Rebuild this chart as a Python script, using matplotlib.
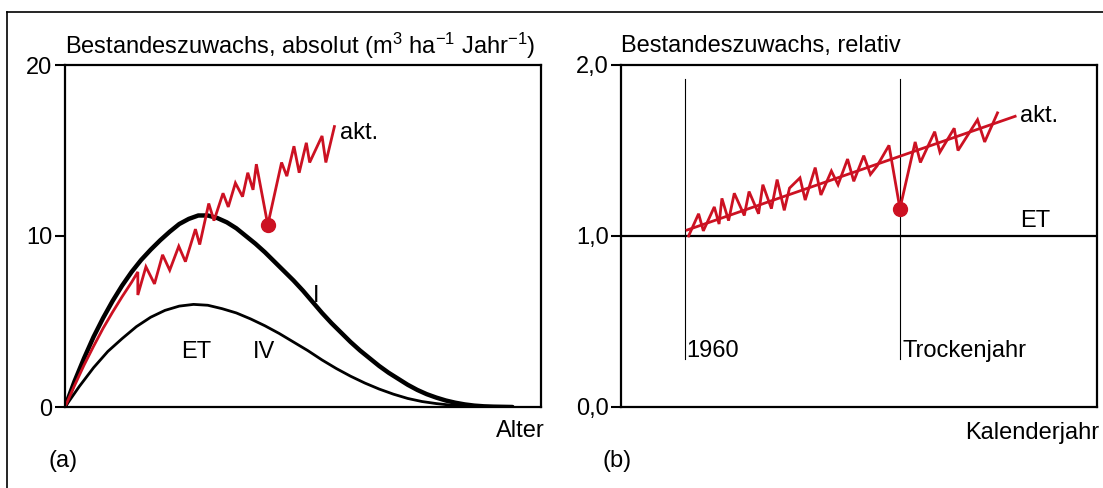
import matplotlib
matplotlib.use("Agg")
import matplotlib.pyplot as plt
from matplotlib.lines import Line2D

plt.rcParams['font.family'] = ['Liberation Sans', 'DejaVu Sans']
plt.rcParams['mathtext.fontset'] = 'custom'
plt.rcParams['mathtext.rm'] = 'Liberation Sans'
plt.rcParams['mathtext.it'] = 'Liberation Sans:italic'
plt.rcParams['mathtext.bf'] = 'Liberation Sans:bold'

RED = '#cc1122'
FS = 17

# ---- (a) absolute increment vs. age (x: relative age, 0..100) ----
curve_I_x = [0, 2, 4, 6, 8, 10, 12, 14, 16, 18, 20, 22, 24, 26, 28, 30, 32,
             34, 36, 38, 40, 42, 44, 46, 48, 50, 52, 54, 56, 58, 60, 62, 64,
             66, 68, 70, 72, 74, 76, 78, 80, 82, 84, 86, 88, 90, 92, 94]
curve_I_y = [0, 1.5, 2.85, 4.1, 5.2, 6.2, 7.1, 7.9, 8.6, 9.2, 9.75, 10.25,
             10.7, 11.0, 11.2, 11.2, 11.05, 10.8, 10.45, 10.0, 9.55, 9.05,
             8.5, 7.95, 7.4, 6.8, 6.15, 5.5, 4.9, 4.35, 3.8, 3.3, 2.85, 2.4,
             2.0, 1.65, 1.3, 1.0, 0.75, 0.55, 0.38, 0.25, 0.15, 0.08, 0.04,
             0.02, 0.01, 0]

curve_IV_x = [0, 3, 6, 9, 12, 15, 18, 21, 24, 27, 30, 33, 36, 39, 42, 45, 48,
              51, 54, 57, 60, 63, 66, 69, 72, 75, 78, 81, 84, 87, 90, 94]
curve_IV_y = [0, 1.2, 2.3, 3.25, 4.0, 4.7, 5.25, 5.65, 5.9, 6.0, 5.95, 5.75,
              5.5, 5.15, 4.75, 4.3, 3.8, 3.3, 2.75, 2.25, 1.8, 1.4, 1.05, 0.75,
              0.5, 0.32, 0.2, 0.11, 0.06, 0.03, 0.01, 0]

akt_a_x = [0, 2, 4, 6, 8, 10, 12, 14, 15.3, 15.3, 17.0, 18.8, 20.5, 22.0,
           23.9, 25.3, 27.4, 28.3, 30.2, 31.3, 33.2, 34.3, 35.8, 37.3, 38.4,
           39.5, 40.2, 42.6, 45.5, 46.6, 48.1, 49.2, 50.7, 51.4, 54.0, 54.8,
           56.6]
akt_a_y = [0, 1.25, 2.45, 3.55, 4.6, 5.55, 6.45, 7.3, 7.9, 6.55, 8.2, 7.2,
           8.9, 8.0, 9.4, 8.5, 10.4, 9.5, 11.9, 10.9, 12.5, 11.7, 13.1, 12.3,
           13.7, 12.7, 14.2, 10.65, 14.3, 13.5, 15.25, 13.7, 15.45, 14.3,
           15.85, 14.3, 16.4]
drought_a = (42.6, 10.65)

yticks_a = [0, 10, 20]
yticklabels_a = ['0', '10', '20']

# ---- (b) relative increment vs. calendar year ----
akt_b_x = [14.2, 16.3, 17.3, 19.6, 20.6, 21.2, 22.6, 23.8, 25.9, 26.9, 28.9,
           29.8, 31.6, 32.8, 34.3, 35.4, 37.6, 38.7, 40.8, 42.0, 44.2, 45.6,
           47.6, 48.9, 51.0, 52.4, 53.8, 56.3, 58.6, 61.8, 62.9, 65.9, 67.0,
           70.0, 70.8, 74.9, 76.4, 79.1]
akt_b_y = [1.00, 1.13, 1.03, 1.17, 1.07, 1.22, 1.09, 1.25, 1.12, 1.26, 1.13,
           1.30, 1.16, 1.33, 1.15, 1.28, 1.34, 1.21, 1.40, 1.24, 1.38, 1.30,
           1.45, 1.32, 1.47, 1.36, 1.41, 1.53, 1.16, 1.55, 1.43, 1.61, 1.49,
           1.63, 1.50, 1.68, 1.55, 1.72]
trend_b_x = [13.9, 82.8]
trend_b_y = [1.035, 1.70]
drought_b = (58.6, 1.16)
year1960_x = 13.4
dry_year_x = 58.7
marker_y = [0.28, 1.92]
et_level = 1.0

yticks_b = [0, 1, 2]
yticklabels_b = ['0,0', '1,0', '2,0']

W, H = 1103, 488
fig = plt.figure(figsize=(W / 100, H / 100), dpi=100)


def box(px_left, px_top, px_right, px_bottom):
    return [px_left / W, 1 - px_bottom / H, (px_right - px_left) / W,
            (px_bottom - px_top) / H]


def style(ax, ticks, labels, ymax):
    ax.set_xlim(0, 100)
    ax.set_ylim(0, ymax)
    ax.set_xticks([])
    ax.set_yticks(ticks)
    ax.set_yticklabels(labels)
    ax.tick_params(axis='y', direction='out', length=7, width=1.5,
                   labelsize=FS, pad=2)
    for s in ax.spines.values():
        s.set_linewidth(1.6)


# frame around figure (left and top lines only are visible)
fig.add_artist(Line2D([7 / W, 7 / W], [0, 1 - 12 / H], color='black',
                      lw=1.2, transform=fig.transFigure))
fig.add_artist(Line2D([7 / W, 1], [1 - 12 / H, 1 - 12 / H], color='black',
                      lw=1.2, transform=fig.transFigure))

# panel (a)
ax1 = fig.add_axes(box(65, 65, 541, 407))
style(ax1, yticks_a, yticklabels_a, 20)
ax1.plot(curve_I_x, curve_I_y, color='black', lw=3.2, solid_capstyle='round')
ax1.plot(curve_IV_x, curve_IV_y, color='black', lw=2.0)
ax1.plot(akt_a_x, akt_a_y, color=RED, lw=2.0, solid_joinstyle='miter')
ax1.plot(*drought_a, 'o', color=RED, ms=10)
ax1.text(57.8, 16.0, 'akt.', fontsize=FS, va='center', ha='left')
ax1.text(52.8, 6.5, 'I', fontsize=FS, va='center', ha='center')
ax1.text(27.6, 3.2, 'ET', fontsize=FS, va='center', ha='center')
ax1.text(41.8, 3.2, 'IV', fontsize=FS, va='center', ha='center')
fig.text(65 / W, 1 - 46 / H,
         r'Bestandeszuwachs, absolut (m$^{3}$ ha$^{-1}$ Jahr$^{-1}$)',
         fontsize=FS, ha='left', va='center')
fig.text(545 / W, 1 - 431 / H, 'Alter', fontsize=FS, ha='right', va='center')
fig.text(63 / W, 1 - 461 / H, '(a)', fontsize=FS, ha='center', va='center')

# panel (b)
ax2 = fig.add_axes(box(621, 65, 1097, 407))
style(ax2, yticks_b, yticklabels_b, 2)
ax2.axhline(et_level, color='black', lw=1.6)
ax2.plot([year1960_x, year1960_x], marker_y, color='black', lw=0.8)
ax2.plot([dry_year_x, dry_year_x], marker_y, color='black', lw=0.8)
ax2.plot(trend_b_x, trend_b_y, color=RED, lw=2.0)
ax2.plot(akt_b_x, akt_b_y, color=RED, lw=2.0, solid_joinstyle='miter')
ax2.plot(*drought_b, 'o', color=RED, ms=10)
ax2.text(83.8, 1.70, 'akt.', fontsize=FS, va='center', ha='left')
ax2.text(87.0, 1.085, 'ET', fontsize=FS, va='center', ha='center')
ax2.text(year1960_x + 0.4, 0.33, '1960', fontsize=FS, va='center', ha='left')
ax2.text(dry_year_x + 0.4, 0.33, 'Trockenjahr', fontsize=FS, va='center',
         ha='left')
fig.text(621 / W, 1 - 46 / H, 'Bestandeszuwachs, relativ', fontsize=FS,
         ha='left', va='center')
fig.text(1099 / W, 1 - 433 / H, 'Kalenderjahr', fontsize=FS, ha='right',
         va='center')
fig.text(617 / W, 1 - 461 / H, '(b)', fontsize=FS, ha='center', va='center')

fig.savefig('out.png', dpi=100)
